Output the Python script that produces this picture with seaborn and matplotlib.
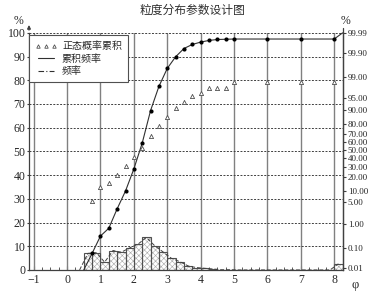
import numpy as np
import pandas as pd
import matplotlib
matplotlib.use("Agg")
import matplotlib.pyplot as plt
import seaborn as sns
from matplotlib.lines import Line2D
from statistics import NormalDist

# ---- data ----
bin_edges = [0.5, 0.75, 1.0, 1.25, 1.5, 1.75, 2.0, 2.25, 2.5, 2.75, 3.0, 3.25, 3.5, 3.75,
             4.0, 4.25, 4.5, 4.75, 5.0, 5.25, 5.5, 5.75, 6.0, 6.25, 6.5, 6.75, 7.0, 7.25,
             7.5, 7.75, 8.0, 8.25]
freq = [7.0, 7.3, 3.3, 8.2, 7.5, 9.3, 10.9, 13.7, 10.2, 7.6, 4.9, 3.5, 1.7, 1.0, 0.7, 0.4,
        0.1, 0.1, 0, 0, 0, 0, 0, 0, 0, 0, 0, 0, 0, 0, 2.6]

cum_x = [0.5, 0.75, 1.0, 1.25, 1.5, 1.75, 2.0, 2.25, 2.5, 2.75, 3.0, 3.25, 3.5, 3.75,
         4.0, 4.25, 4.5, 4.75, 5.0, 6.0, 7.0, 8.0, 8.25]
cum_y = [0, 7.0, 14.3, 17.6, 25.8, 33.3, 42.6, 53.5, 67.2, 77.4, 85.0, 89.9, 93.4, 95.1,
         96.1, 96.8, 97.2, 97.3, 97.4, 97.4, 97.4, 97.4, 100]

tri_x = [0.75, 1.0, 1.25, 1.5, 1.75, 2.0, 2.25, 2.5, 2.75, 3.0, 3.25, 3.5, 3.75, 4.0,
         4.25, 4.5, 4.75, 5.0, 6.0, 7.0, 8.0]
tri_y = [29.1, 35.0, 36.8, 40.2, 43.7, 47.6, 51.5, 56.7, 60.9, 64.7, 68.2, 71.0, 73.2,
         74.8, 76.6, 76.6, 76.6, 79.1, 79.1, 79.1, 79.1]

prob_ticks = [0.01, 0.10, 1.00, 5.00, 10.00, 20.00, 30.00, 40.00, 50.00, 60.00, 70.00,
              80.00, 90.00, 95.00, 99.00, 99.90, 99.99]
x_ticks = [-1, 0, 1, 2, 3, 4, 5, 6, 7, 8]
y_ticks = [0, 10, 20, 30, 40, 50, 60, 70, 80, 90, 100]

sns.set_style("ticks")
plt.rcParams["font.family"] = ["Liberation Serif", "Noto Sans CJK SC", "DejaVu Sans"]
plt.rcParams["hatch.linewidth"] = 0.4

fig = plt.figure(figsize=(3.84, 2.96), dpi=100)
ax = fig.add_axes([0.0755, 0.088, 0.8175, 0.801])

edges = np.array(bin_edges)
mids = (edges[:-1] + edges[1:]) / 2
df = pd.DataFrame({"phi": mids, "freq": freq})

# hatched histogram (hatch in light grey, outline in dark grey)
n0 = len(ax.patches)
sns.histplot(data=df, x="phi", weights="freq", bins=bin_edges, ax=ax,
             color="white", alpha=1, zorder=2)
for p in ax.patches[n0:]:
    p.set_facecolor("white")
    p.set_edgecolor("#a8a8a8")
    p.set_hatch("xxxxxx")
    p.set_linewidth(0)
n1 = len(ax.patches)
sns.histplot(data=df, x="phi", weights="freq", bins=bin_edges, ax=ax,
             fill=False, color="#505050", zorder=3)
for p in ax.patches[n1:]:
    p.set_edgecolor("#505050")
    p.set_linewidth(0.8)

# frequency polygon (dashed)
poly_x = [bin_edges[0] - 0.125] + list(mids)
poly_y = [0] + list(freq)
sns.lineplot(x=poly_x, y=poly_y, ax=ax, color="#404040", lw=0.7,
             linestyle=(0, (4, 2)), zorder=4, sort=False)

# cumulative frequency curve
sns.lineplot(x=cum_x, y=cum_y, ax=ax, color="#303030", lw=0.8, zorder=5,
             sort=False, clip_on=False)
sns.scatterplot(x=cum_x[1:-1], y=cum_y[1:-1], ax=ax, color="black", s=9,
                edgecolor="black", linewidth=0, zorder=6)

# normal probability cumulative (triangles)
sns.scatterplot(x=tri_x, y=tri_y, ax=ax, marker="^", s=9, facecolor="white",
                edgecolor="#505050", linewidth=0.6, zorder=6)

ax.set_xlim(-1.14, 8.26)
ax.set_ylim(0, 100)
ax.set_xticks(x_ticks)
ax.set_xticks([t + d for t in x_ticks[:-1] for d in (0.25, 0.5, 0.75)], minor=True)
ax.set_yticks(y_ticks)
ax.set_xlabel("")
ax.set_ylabel("")

for x in x_ticks:
    ax.axvline(x, color="#808080", lw=1.0, zorder=1)
for y in y_ticks[1:]:
    ax.axhline(y, color="#404040", lw=0.7, linestyle=(0, (2, 1.5)), zorder=1,
               clip_on=False)

for side in ["left", "right", "bottom"]:
    ax.spines[side].set_color("#404040")
    ax.spines[side].set_linewidth(0.9)
ax.spines["top"].set_visible(False)
ax.tick_params(axis="x", which="major", direction="in", length=3, labelsize=8.5,
               pad=3, color="#404040")
ax.tick_params(axis="x", which="minor", direction="in", length=2, color="#404040")
ax.tick_params(axis="y", direction="out", length=1.5, labelsize=8.5, pad=1,
               color="#404040")

# probability scale on the right
nd = NormalDist()
ax2 = ax.twinx()
ax2.set_ylim(-3.779, 3.719)
ax2.set_yticks([nd.inv_cdf(p / 100) for p in prob_ticks])
ax2.set_yticklabels([f"{p:.2f}" for p in prob_ticks])
ax2.tick_params(axis="y", direction="out", length=2.5, labelsize=6.5, pad=1,
                color="#404040")
for side in ["left", "bottom", "top"]:
    ax2.spines[side].set_visible(False)
ax2.spines["right"].set_color("#404040")
ax2.spines["right"].set_linewidth(0.9)

# arrows / unit marks
ax.annotate("", xy=(0, 1.045), xytext=(0, 1.0), xycoords="axes fraction",
            arrowprops=dict(arrowstyle="-|>", color="#404040", lw=0.9,
                            mutation_scale=5))
ax.plot([1.0, 1.0], [1.0, 1.02], transform=ax.transAxes, color="#404040",
        lw=0.9, clip_on=False)
fig.text(0.048, 0.93, "%", fontsize=8.5, ha="center", va="center")
fig.text(0.9, 0.93, "%", fontsize=8.5, ha="center", va="center")
fig.text(0.925, 0.038, "φ", fontsize=9, ha="center", va="center")

handles = [
    Line2D([], [], marker="^", linestyle="none", markersize=2.5,
           markerfacecolor="white", markeredgecolor="#505050", markeredgewidth=0.6),
    Line2D([], [], color="#303030", lw=0.8),
    Line2D([], [], color="#303030", lw=0.8, linestyle=(0, (5, 2, 1, 2))),
]
leg = ax.legend(handles, ["正态概率累积", "累积频率", "频率"], loc="upper left",
                bbox_to_anchor=(0.0, 0.99), fancybox=False, framealpha=1,
                edgecolor="#505050", fontsize=7.2, numpoints=3, handlelength=2.2,
                handletextpad=0.5, labelspacing=0.3, borderpad=0.6,
                borderaxespad=0.0)
leg.get_frame().set_linewidth(0.8)
leg.set_zorder(10)

fig.suptitle("粒度分布参数设计图", x=0.5, y=0.985, fontsize=8.5, color="#303030")

fig.savefig("out.png", dpi=100)
